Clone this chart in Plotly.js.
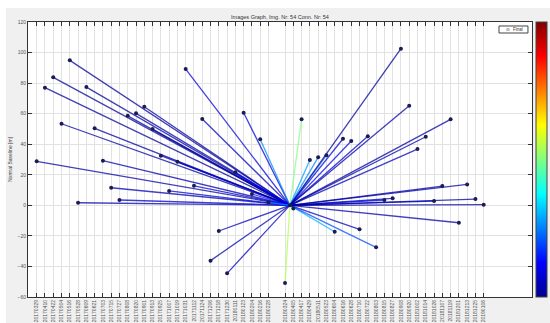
<!DOCTYPE html>
<html>
<head>
<meta charset="utf-8">
<script src="https://cdn.plot.ly/plotly-3.0.1.min.js"></script>
<style>
  html, body { margin: 0; padding: 0; background: #ffffff; width: 550px; height: 323px; overflow: hidden; }
  #chart { position: absolute; left: 6px; top: 8px; width: 544px; height: 315px; }
</style>
</head>
<body>
<div id="chart"></div>
<script>
// ---- data ----
const masterDate = '2018-03-31';

const slaveDates = [
  '2017-03-29','2017-04-10','2017-04-22','2017-05-04','2017-05-16','2017-05-28',
  '2017-06-09','2017-06-21','2017-07-03','2017-07-15','2017-07-27','2017-08-08',
  '2017-08-20','2017-09-01','2017-09-13','2017-09-25','2017-10-07','2017-10-19',
  '2017-10-31','2017-11-12','2017-11-24','2017-12-06','2017-12-18','2017-12-30',
  '2018-01-11','2018-01-23','2018-02-04','2018-02-16','2018-02-28',
  '2018-03-24','2018-04-05','2018-04-17','2018-04-29','2018-05-11','2018-05-23',
  '2018-06-04','2018-06-16','2018-06-28','2018-07-10','2018-07-22','2018-08-03',
  '2018-08-15','2018-08-27','2018-09-08','2018-09-20','2018-10-02','2018-10-14',
  '2018-10-26','2018-11-07','2018-11-19','2018-12-01','2018-12-13','2018-12-25',
  '2019-01-06'
];

const normalBaseline = [
  28.8, 77.0, 83.8, 53.4, 94.9, 1.7,
  77.4, 50.4, 29.2, 11.5, 3.5, 58.6,
  60.2, 64.5, 49.9, 32.5, 9.4, 28.5,
  89.2, 12.8, 56.5, -36.2, -16.8, -44.5,
  21.6, 60.6, 7.4, 43.2, 2.0,
  -50.9, -2.0, 56.3, 29.6, 31.4, 32.7,
  -17.3, 43.6, 42.1, -15.7, 45.2, -27.5,
  3.5, 4.6, 102.5, 65.2, 36.8, 44.9,
  2.8, 12.6, 56.3, -11.4, 13.7, 4.1,
  0.4
];

const coherence = [
  0.02, 0.01, 0.01, 0.02, 0.01, 0.04,
  0.01, 0.02, 0.03, 0.04, 0.06, 0.02,
  0.02, 0.02, 0.03, 0.05, 0.07, 0.05,
  0.08, 0.08, 0.05, 0.03, 0.05, 0.04,
  0.12, 0.08, 0.14, 0.26, 0.28,
  0.55, 0.40, 0.50, 0.28, 0.26, 0.24,
  0.30, 0.08, 0.10, 0.05, 0.06, 0.20,
  0.08, 0.06, 0.01, 0.03, 0.04, 0.03,
  0.05, 0.03, 0.02, 0.03, 0.02, 0.02,
  0.02
];

const tickLabels = slaveDates.map(d => d.replace(/-/g, ''));

// ---- styling helpers ----
const jetStops = [
  [0.000, [0, 0, 143]],
  [0.125, [0, 0, 255]],
  [0.375, [0, 255, 255]],
  [0.625, [255, 255, 0]],
  [0.875, [255, 0, 0]],
  [1.000, [128, 0, 0]]
];
const jetScale = jetStops.map(s => [s[0], 'rgb(' + s[1].join(',') + ')']);
function jet(v) {
  v = Math.max(0, Math.min(1, v));
  for (let i = 1; i < jetStops.length; i++) {
    if (v <= jetStops[i][0]) {
      const a = jetStops[i - 1], b = jetStops[i];
      const t = (v - a[0]) / (b[0] - a[0]);
      const c = a[1].map((ch, j) => Math.round(ch + t * (b[1][j] - ch)));
      return 'rgb(' + c.join(',') + ')';
    }
  }
  return 'rgb(128,0,0)';
}

const traces = [];
slaveDates.forEach((d, i) => {
  traces.push({
    type: 'scatter', mode: 'lines',
    x: [masterDate, d], y: [0, normalBaseline[i]],
    line: { color: jet(coherence[i]), width: 1.3 },
    opacity: 0.75,
    hoverinfo: 'skip', showlegend: false
  });
});
traces.push({
  type: 'scatter', mode: 'markers',
  x: slaveDates.concat([masterDate]),
  y: normalBaseline.concat([0]),
  marker: { color: '#1c1c55', size: 4 },
  hoverinfo: 'skip', showlegend: false
});
traces.push({
  type: 'scatter', mode: 'markers',
  x: [masterDate], y: [0],
  marker: {
    size: 1, opacity: 0, color: [0], cmin: 0, cmax: 1, colorscale: jetScale,
    showscale: true,
    colorbar: {
      x: 1.008, xanchor: 'left', y: 0.5, yanchor: 'middle',
      len: 1, lenmode: 'fraction', thickness: 11, thicknessmode: 'pixels',
      xpad: 0, ypad: 0, outlinewidth: 1, outlinecolor: '#444',
      showticklabels: false, ticks: ''
    }
  },
  hoverinfo: 'skip', showlegend: false
});

const axisFont = { family: 'Liberation Sans, Arial, sans-serif', size: 5, color: '#555' };

const layout = {
  width: 544, height: 315,
  margin: { l: 22, r: 18, t: 14, b: 26, pad: 0, autoexpand: false },
  paper_bgcolor: '#f0f0f0',
  plot_bgcolor: '#ffffff',
  showlegend: false,
  title: {
    text: 'Images Graph, Img. Nr: 54 Conn. Nr: 54',
    font: { family: 'Liberation Sans, Arial, sans-serif', size: 5.5, color: '#333' },
    x: 0.5, xref: 'paper', xanchor: 'center',
    y: 0.972, yref: 'container', yanchor: 'middle'
  },
  xaxis: {
    type: 'date',
    range: ['2017-03-16 10:00', '2019-03-17'],
    tickmode: 'array', tickvals: slaveDates, ticktext: tickLabels,
    tickangle: -90, tickfont: axisFont,
    ticks: 'inside', ticklen: 4, tickwidth: 1, tickcolor: '#333',
    showline: true, linecolor: '#333', linewidth: 1, mirror: 'ticks',
    showgrid: true, gridcolor: '#e2e2e2', gridwidth: 1,
    zeroline: false, automargin: false
  },
  yaxis: {
    range: [-60, 120], tickmode: 'linear', tick0: -60, dtick: 20,
    tickfont: axisFont,
    ticks: 'inside', ticklen: 4, tickwidth: 1, tickcolor: '#333',
    showline: true, linecolor: '#333', linewidth: 1, mirror: 'ticks',
    showgrid: true, gridcolor: '#e2e2e2', gridwidth: 1,
    zeroline: false, automargin: false,
    title: { text: 'Normal Baseline [m]', font: { family: 'Liberation Sans, Arial, sans-serif', size: 5, color: '#444' }, standoff: 4 }
  },
  shapes: [{
    type: 'rect', xref: 'paper', yref: 'paper',
    x0: 0.9345, x1: 0.992, y0: 0.960, y1: 0.9855,
    line: { color: '#444', width: 1 }, fillcolor: '#ffffff'
  }],
  annotations: [
    { xref: 'paper', yref: 'paper', x: 0.953, y: 0.973, text: '⊙', showarrow: false,
      font: { family: 'DejaVu Sans', size: 4.5, color: '#333' }, xanchor: 'center', yanchor: 'middle' },
    { xref: 'paper', yref: 'paper', x: 0.987, y: 0.973, text: 'Final', showarrow: false,
      font: { family: 'Liberation Sans, Arial, sans-serif', size: 4.5, color: '#333' }, xanchor: 'right', yanchor: 'middle' }
  ]
};

Plotly.newPlot('chart', traces, layout, { staticPlot: true, displayModeBar: false });
</script>
</body>
</html>
